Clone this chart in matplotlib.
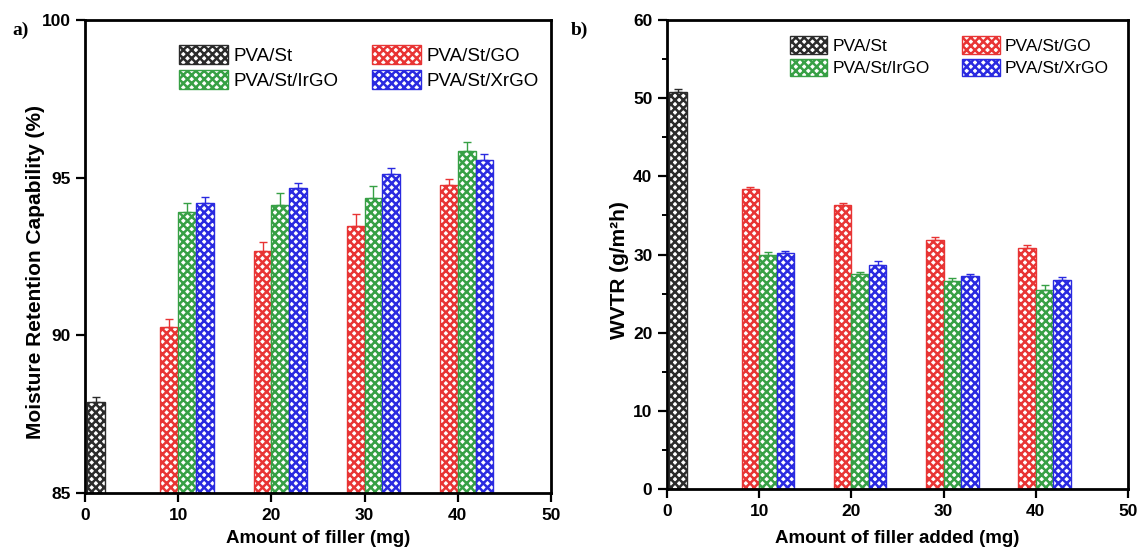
import matplotlib
matplotlib.use("Agg")
import matplotlib.pyplot as plt
import numpy as np

plt.rcParams["font.family"] = ["Liberation Sans", "DejaVu Sans"]
plt.rcParams["hatch.linewidth"] = 1.8

# ---- data -------------------------------------------------------------
filler = [10, 20, 30, 40]
tick_vals = [0, 10, 20, 30, 40, 50]

series = ["PVA/St", "PVA/St/GO", "PVA/St/IrGO", "PVA/St/XrGO"]

# moisture retention capability (%)
mrc_neat, mrc_neat_err = 87.9, 0.15
mrc_go = [90.26, 92.67, 93.47, 94.77]
mrc_go_err = [0.26, 0.28, 0.39, 0.18]
mrc_irgo = [93.90, 94.12, 94.35, 95.84]
mrc_irgo_err = [0.30, 0.38, 0.39, 0.30]
mrc_xrgo = [94.21, 94.66, 95.13, 95.56]
mrc_xrgo_err = [0.17, 0.18, 0.18, 0.19]

# water vapour transmission rate (g/m^2 h)
wvtr_neat, wvtr_neat_err = 50.8, 0.35
wvtr_go = [38.4, 36.3, 31.8, 30.8]
wvtr_go_err = [0.30, 0.35, 0.45, 0.40]
wvtr_irgo = [30.0, 27.5, 26.6, 25.5]
wvtr_irgo_err = [0.35, 0.30, 0.40, 0.60]
wvtr_xrgo = [30.2, 28.7, 27.2, 26.7]
wvtr_xrgo_err = [0.30, 0.45, 0.30, 0.40]

colors = ["#2b2b2b", "#e83434", "#37a045", "#2a2ae0"]

# ---- layout -------------------------------------------------------------
fig = plt.figure(figsize=(11.47, 5.53), dpi=100)
axA = fig.add_axes([0.0741, 0.1085, 0.4063, 0.8553])
axB = fig.add_axes([0.5815, 0.1157, 0.4019, 0.8481])

width = 1.9
offsets = [-0.95, 0.95, 2.85]
neat_pos = 1.2


def hatched_bar(ax, x, h, err, color, label):
    x = np.atleast_1d(x)
    h = np.atleast_1d(h)
    err = np.atleast_1d(err)
    bars = ax.bar(x, h, width=width, facecolor="white", edgecolor=color,
                  hatch="xxxx", linewidth=1.0, label=label, zorder=2)
    ax.errorbar(x, h, yerr=[np.zeros_like(err), err], fmt="none",
                ecolor=color, elinewidth=1.0, capsize=3, capthick=1.0,
                zorder=3)
    return bars


def draw_panel(ax, neat, neat_err, groups, ylim, yticks, ylabel, xlabel,
               legend_anchor, leg_fs, handle_len, handle_h, colsp):
    handles = [hatched_bar(ax, neat_pos, neat, neat_err, colors[0], series[0])]
    fx = np.array(filler, dtype=float)
    for (vals, errs), off, col, name in zip(groups, offsets, colors[1:], series[1:]):
        handles.append(hatched_bar(ax, fx + off, vals, errs, col, name))

    ax.set_xlim(0, 50)
    ax.set_ylim(*ylim)
    ax.set_xticks(tick_vals)
    ax.set_yticks(yticks)
    for lab in ax.get_xticklabels() + ax.get_yticklabels():
        lab.set_fontweight("bold")
        lab.set_fontsize(12.5)
    ax.tick_params(axis="both", which="major", direction="out", length=6.5,
                   width=1.6, pad=4)
    for sp in ax.spines.values():
        sp.set_linewidth(2.0)

    ax.set_ylabel(ylabel, fontsize=15, fontweight="bold")
    ax.set_xlabel(xlabel, fontsize=13.5, fontweight="bold")

    order = [0, 2, 1, 3]
    ax.legend([handles[i] for i in order], [series[i] for i in order],
              ncol=2, loc="upper left", bbox_to_anchor=legend_anchor,
              frameon=False, fontsize=leg_fs, borderpad=0, borderaxespad=0,
              handlelength=handle_len, handleheight=handle_h,
              handletextpad=0.3, columnspacing=colsp, labelspacing=0.28)


draw_panel(axA, mrc_neat, mrc_neat_err,
           [(mrc_go, mrc_go_err), (mrc_irgo, mrc_irgo_err), (mrc_xrgo, mrc_xrgo_err)],
           (85, 100), [85, 90, 95, 100],
           "Moisture Retention Capability (%)", "Amount of filler (mg)",
           (0.2017, 0.948), 13.5, 2.6, 1.2, 1.8)

draw_panel(axB, wvtr_neat, wvtr_neat_err,
           [(wvtr_go, wvtr_go_err), (wvtr_irgo, wvtr_irgo_err), (wvtr_xrgo, wvtr_xrgo_err)],
           (0, 60), [0, 10, 20, 30, 40, 50, 60],
           "WVTR (g/m\u00b2h)", "Amount of filler added (mg)",
           (0.266, 0.966), 12.5, 2.15, 1.2, 1.9)
axB.set_yticks([5, 15, 25, 35, 45, 55], minor=True)
axB.tick_params(axis="y", which="minor", direction="out", length=3.5, width=1.4)

# label placement
axA.yaxis.set_label_coords(-0.085, 0.467)
axB.yaxis.set_label_coords(-0.082, 0.467)
axA.xaxis.set_label_coords(0.5, -0.078)
axB.xaxis.set_label_coords(0.5, -0.088)

fig.text(12 / 1147, 1 - 30 / 553, "a)", fontsize=14, fontweight="bold",
         family="Liberation Serif", va="center", ha="left")
fig.text(571 / 1147, 1 - 30 / 553, "b)", fontsize=14, fontweight="bold",
         family="Liberation Serif", va="center", ha="left")

fig.savefig("out.png", dpi=100)
